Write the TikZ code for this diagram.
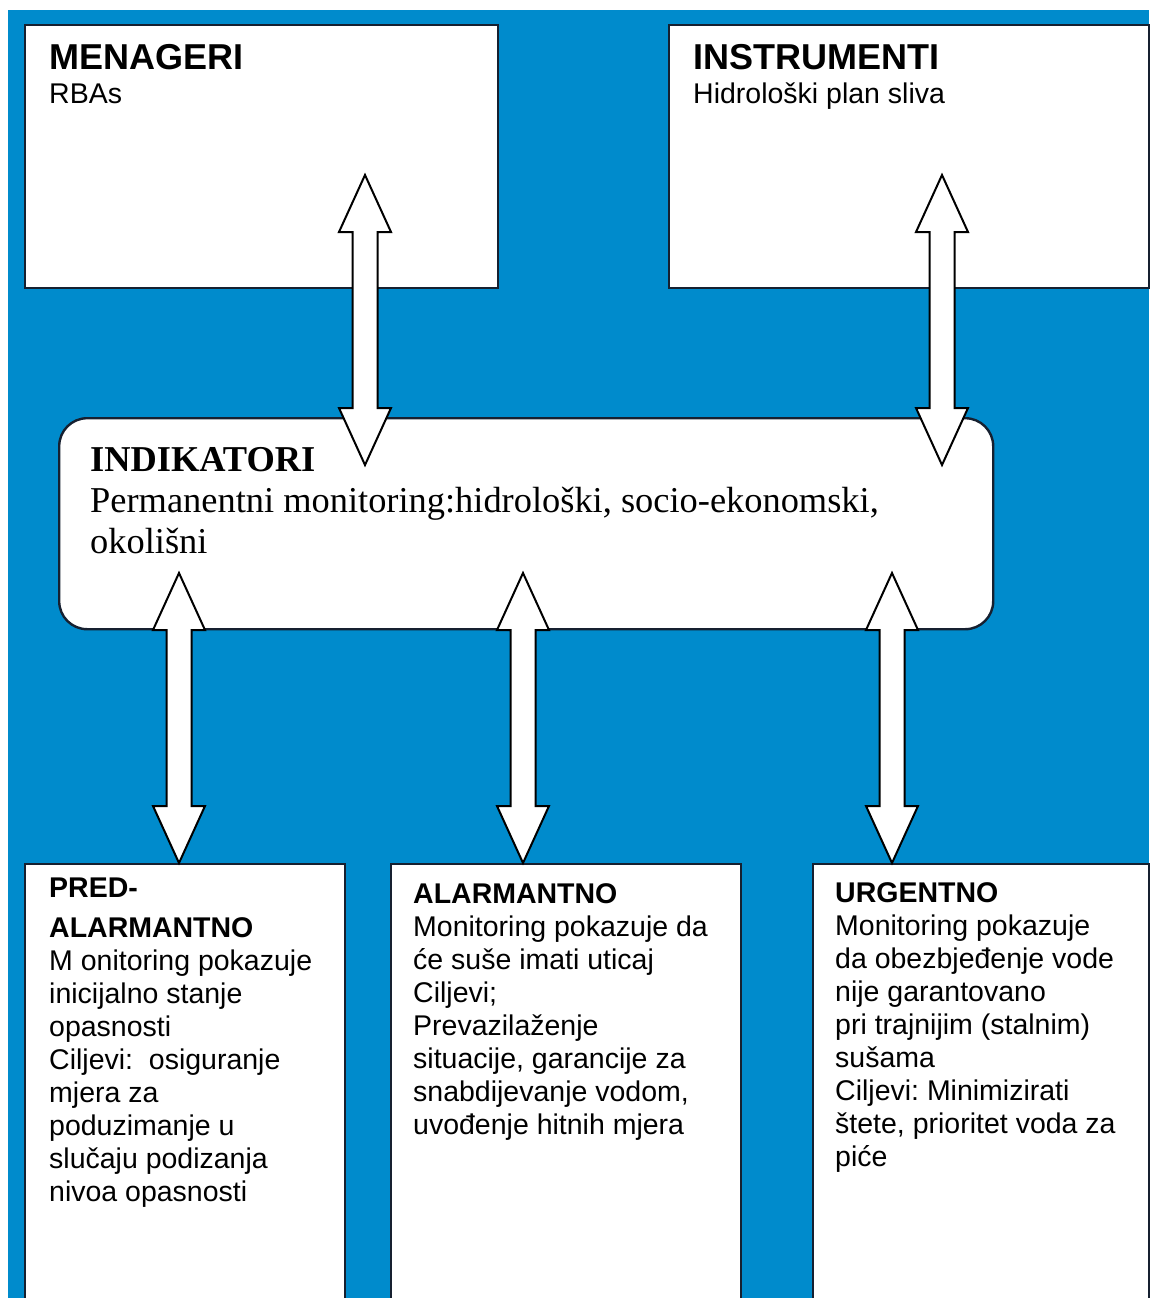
\documentclass[tikz,border=0pt]{standalone}
\usepackage{fontspec}
\setmainfont{Liberation Sans}
\newfontfamily\serifface{Liberation Serif}
\usetikzlibrary{calc}
\frenchspacing

\definecolor{bgblue}{RGB}{0,139,204}
\definecolor{edge}{RGB}{22,32,48}

\tikzset{
  panel/.style={draw=edge, line width=2.4pt, fill=white, inner sep=0pt, anchor=north west},
  fat/.style={draw=black, line width=2pt, fill=white, line join=miter},
  headline/.style={anchor=base west, inner sep=0pt, font=\fontsize{36}{41}\selectfont\bfseries},
  subline/.style={anchor=base west, inner sep=0pt, font=\fontsize{28.5}{33}\selectfont},
  bodytext/.style={anchor=north west, inner sep=0pt, align=left, font=\fontsize{28.5}{33}\selectfont},
}

% vertical two-headed block arrow between two tip coordinates
\newcommand\fatarrow[2]{%
  \path[fat] (#1) -- ($(#1)+(26,57)$) -- ($(#1)+(12.5,57)$)
    -- ($(#2)+(12.5,-57)$) -- ($(#2)+(26,-57)$) -- (#2)
    -- ($(#2)+(-26,-57)$) -- ($(#2)+(-12.5,-57)$)
    -- ($(#1)+(-12.5,57)$) -- ($(#1)+(-26,57)$) -- cycle;}

\begin{document}
\begin{tikzpicture}[x=1pt, y=-1pt]
  \useasboundingbox (0,0) rectangle (1149,1298);
  \fill[white] (0,0) rectangle (1149,1298);
  \fill[bgblue] (8,10) rectangle (1149,1298);

  % top row
  \node[panel, minimum width=473pt, minimum height=263pt] (men) at (24,24) {};
  \node[headline] (menT) at ($(men.north west)+(25,46)$) {MENAGERI};
  \node[subline] (menS) at ($(men.north west)+(25,79)$) {RBAs};

  \node[panel, minimum width=480pt, minimum height=263pt] (ins) at (668,24) {};
  \node[headline] (insT) at ($(ins.north west)+(25,46)$) {INSTRUMENTI};
  \node[subline] (insS) at ($(ins.north west)+(25,79)$) {Hidrološki plan sliva};

  % middle panel
  \node[panel, rounded corners=28pt, minimum width=934pt, minimum height=211pt] (ind) at (58,417) {};
  \node[anchor=north west, inner sep=0pt, align=left,
        font=\serifface\fontsize{36.4}{41}\selectfont] (indT) at (90,442.3)
    {\strut\textbf{INDIKATORI}\\Permanentni monitoring:hidrološki, socio-ekonomski,\\okolišni};

  % bottom row
  \node[panel, minimum width=320pt, minimum height=460pt] (pre) at (24,863) {};
  \node[bodytext] (preT) at (49,874)
    {\strut\textbf{PRED-}\\[7pt]\textbf{ALARMANTNO}\\M onitoring pokazuje\\inicijalno stanje\\opasnosti\\Ciljevi:\ \ osiguranje\\mjera za\\poduzimanje u\\slučaju podizanja\\nivoa opasnosti};

  \node[panel, minimum width=350pt, minimum height=460pt] (ala) at (390,863) {};
  \node[bodytext] (alaT) at (413,880)
    {\strut\textbf{ALARMANTNO}\\Monitoring pokazuje da\\će suše imati uticaj\\Ciljevi;\\Prevazilaženje\\situacije, garancije za\\snabdijevanje vodom,\\uvođenje hitnih mjera};

  \node[panel, minimum width=336pt, minimum height=460pt] (urg) at (812,863) {};
  \node[bodytext] (urgT) at (835,879)
    {\strut\textbf{URGENTNO}\\Monitoring pokazuje\\da obezbjeđenje vode\\nije garantovano\\pri trajnijim (stalnim)\\sušama\\Ciljevi: Minimizirati\\štete, prioritet voda za\\piće};

  % arrow tips
  \coordinate (a1t) at (365,175);  \coordinate (a1b) at (365,465);
  \coordinate (a2t) at (942,175);  \coordinate (a2b) at (942,465);
  \coordinate (a3t) at (179,573);  \coordinate (a3b) at (179,863);
  \coordinate (a4t) at (523,573);  \coordinate (a4b) at (523,863);
  \coordinate (a5t) at (892,573);  \coordinate (a5b) at (892,863);

  \fatarrow{a1t}{a1b}
  \fatarrow{a2t}{a2b}
  \fatarrow{a3t}{a3b}
  \fatarrow{a4t}{a4b}
  \fatarrow{a5t}{a5b}
\end{tikzpicture}
\end{document}
